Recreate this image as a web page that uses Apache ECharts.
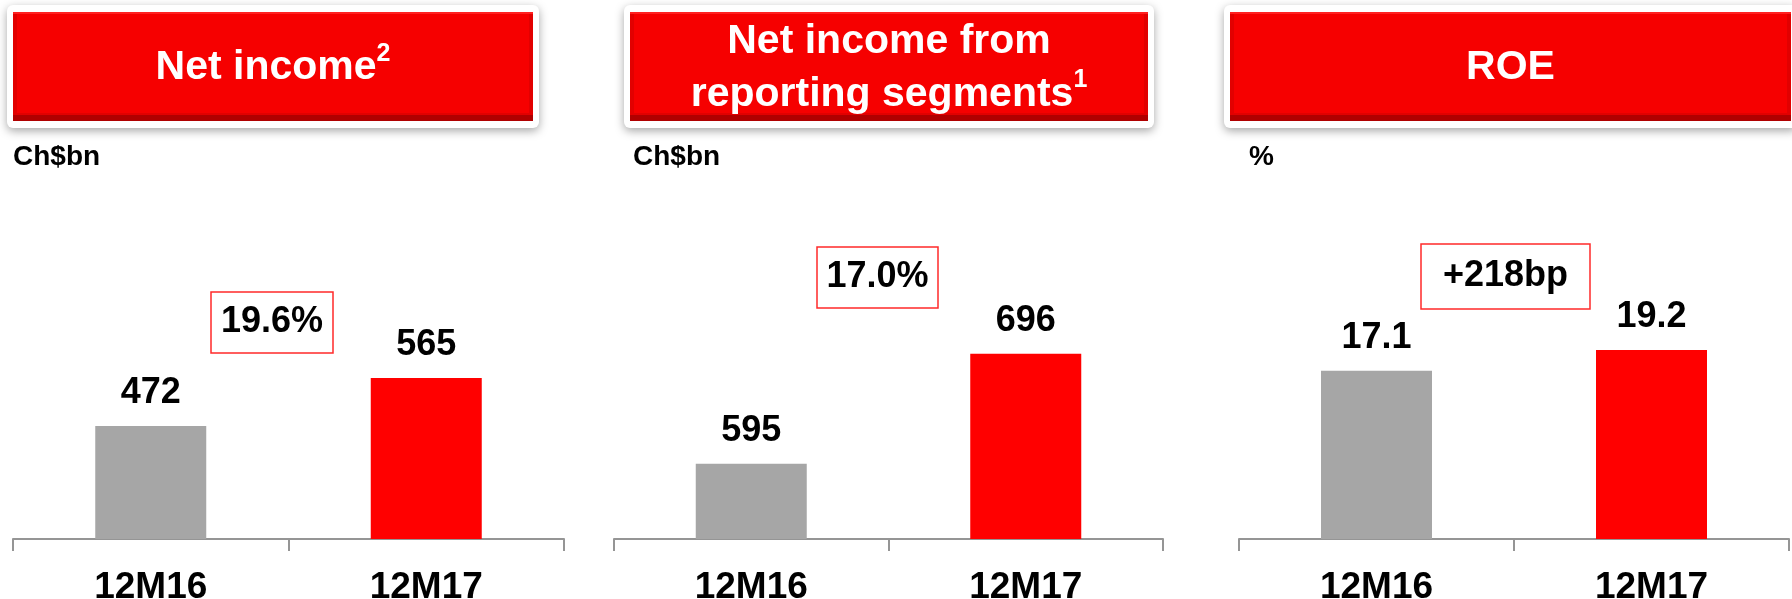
<!DOCTYPE html>
<html>
<head>
<meta charset="utf-8">
<title>Net income / ROE</title>
<script src="https://cdn.jsdelivr.net/npm/echarts@6.0.0/dist/echarts.min.js"></script>
<style>
  html, body { margin: 0; padding: 0; background: #fff; }
  #main { width: 1792px; height: 599px; }
</style>
</head>
<body>
<div id="main"></div>
<script>
// 数据
const categories = ['12M16', '12M17']
const netIncome = [472, 565]
const netIncomeSegments = [595, 696]
const roe = [17.1, 19.2]
const growthLabels = ['19.6%', '17.0%', '+218bp']
// 标题 (rich text, s = 上标)
const panelTitles = ['{t|Net income}{s|2}', '{t|Net income from}\n{t|reporting segments}{s|1}', '{t|ROE}']
const unitLabels = ['Ch$bn', 'Ch$bn', '%']

const FONT = '"Liberation Sans", Arial, Helvetica, sans-serif'
const GREY = '#a6a6a6'
const RED = '#ff0000'
const AXIS = '#959595'

// 面板布局 (px)
const panels = [
  { left: 13, width: 551, min: 253, max: 912, data: netIncome,
    head: { x: 13, w: 520 }, unitX: 13,
    box: { x: 211, y: 292, w: 122, h: 61 } },
  { left: 614, width: 549, min: 526, max: 838, data: netIncomeSegments,
    head: { x: 630, w: 518 }, unitX: 633,
    box: { x: 817, y: 247, w: 121, h: 61 } },
  { left: 1239, width: 550, min: 0, max: 34.55, data: roe,
    head: { x: 1230, w: 561 }, unitX: 1249,
    box: { x: 1421, y: 244, w: 169, h: 65 } }
]

let myChart = echarts.init(document.getElementById('main'), null, { renderer: 'canvas' })

let grids = []
let xAxes = []
let yAxes = []
let series = []
let graphics = []

panels.forEach(function (p, i) {
  // 不让轴标签挤压网格
  grids.push({ left: p.left, width: p.width, top: 199, height: 340, containLabel: false, outerBoundsMode: 'none' })
  xAxes.push({
    type: 'category',
    gridIndex: i,
    data: categories,
    axisLine: { show: true, lineStyle: { color: AXIS, width: 2 } },
    axisTick: { show: true, length: 12, lineStyle: { color: AXIS, width: 2 } },
    axisLabel: {
      margin: 30,
      color: '#000',
      fontSize: 37,
      fontWeight: 'bold',
      fontFamily: FONT
    }
  })
  yAxes.push({ type: 'value', gridIndex: i, min: p.min, max: p.max, show: false })
  series.push({
    type: 'bar',
    xAxisIndex: i,
    yAxisIndex: i,
    barWidth: 111,
    data: p.data.map(function (v, j) {
      return { value: v, itemStyle: { color: j === 0 ? GREY : RED } }
    }),
    label: {
      show: true,
      position: 'top',
      distance: 15,
      color: '#000',
      fontSize: 36,
      fontWeight: 'bold',
      fontFamily: FONT
    }
  })

  // 标题框
  let h = p.head
  graphics.push({
    type: 'rect',
    shape: { x: h.x - 6, y: 5, width: h.w + 12, height: 123, r: 6 },
    style: { fill: '#fff', shadowBlur: 10, shadowColor: 'rgba(0,0,0,0.35)', shadowOffsetY: 3 }
  })
  graphics.push({ type: 'rect', shape: { x: h.x, y: 12, width: h.w, height: 109 }, style: { fill: '#b00000' } })
  graphics.push({ type: 'rect', shape: { x: h.x, y: 12, width: h.w, height: 103 }, style: { fill: '#e20000' } })
  graphics.push({ type: 'rect', shape: { x: h.x + 4, y: 13, width: h.w - 8, height: 100 }, style: { fill: '#f60000' } })
  graphics.push({ type: 'rect', shape: { x: h.x, y: 12, width: h.w, height: 2 }, style: { fill: '#ff2020' } })
  graphics.push({
    type: 'text',
    x: h.x + h.w / 2,
    y: 68,
    style: {
      text: panelTitles[i],
      fill: '#fff',
      align: 'center',
      verticalAlign: 'middle',
      rich: {
        t: { fontSize: 41, fontWeight: 'bold', fontFamily: FONT, lineHeight: 53, fill: '#fff' },
        s: { fontSize: 25, fontWeight: 'bold', fontFamily: FONT, lineHeight: 42, verticalAlign: 'top', fill: '#fff' }
      }
    }
  })

  // 单位
  graphics.push({
    type: 'text',
    x: p.unitX,
    y: 157,
    style: {
      text: unitLabels[i],
      fill: '#000',
      font: 'bold 28px ' + FONT,
      align: 'left',
      verticalAlign: 'middle'
    }
  })

  // 增长框
  let b = p.box
  graphics.push({
    type: 'rect',
    shape: { x: b.x, y: b.y, width: b.w, height: b.h },
    style: { fill: '#fff', stroke: '#ff2a2a', lineWidth: 1.5 }
  })
  graphics.push({
    type: 'text',
    x: b.x + b.w / 2,
    y: b.y + b.h / 2,
    style: {
      text: growthLabels[i],
      fill: '#000',
      font: 'bold 36px ' + FONT,
      align: 'center',
      verticalAlign: 'middle'
    }
  })
})

myChart.setOption({
  animation: false,
  grid: grids,
  xAxis: xAxes,
  yAxis: yAxes,
  series: series,
  graphic: graphics
})
</script>
</body>
</html>
